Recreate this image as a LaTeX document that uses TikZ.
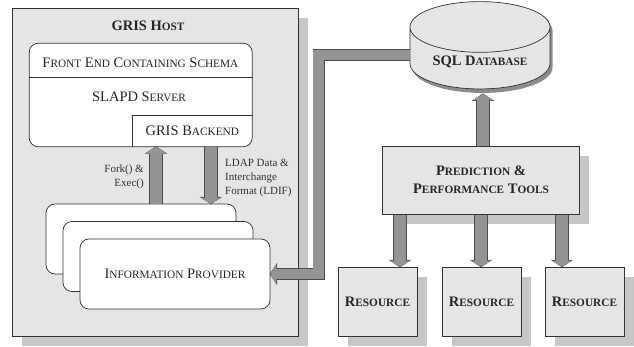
\documentclass[tikz,border=0pt]{standalone}
\usepackage{fontspec}
\setmainfont{Liberation Serif}
\usetikzlibrary{arrows.meta,shapes.geometric,shadows}

% small letters of the small caps
\newcommand{\sm}[1]{{\fontsize{11.3}{13}\selectfont #1}}

\tikzset{
  big/.style={font=\fontsize{14.5}{18}\selectfont, text=black!85},
  bigbold/.style={font=\fontsize{14.5}{18}\selectfont\bfseries, text=black!85},
  note/.style={font=\fontsize{11}{14}\selectfont, text=black!80, inner sep=0pt},
  line/.style={draw=black!80, line width=0.7pt},
  shadowed/.style={drop shadow={shadow xshift=10pt, shadow yshift=-10pt, fill=black!22, opacity=1}},
  greybox/.style={line, fill=black!10, shadowed},
  softbox/.style={line, fill=white, rounded corners=9pt},
  fatarrow/.style={line width=#1pt, draw=black!42, -{Triangle[width=20pt,length=6pt,line width=0pt]},
    preaction={draw=black!70, line width=#1pt+1.6pt, -{Triangle[width=22.5pt,length=7.4pt,line width=0pt]}, shorten >=-0.6pt}},
  fatarrow/.default=12.4,
}

\begin{document}
\begin{tikzpicture}[x=1pt,y=-1pt]
  \useasboundingbox (0,0) rectangle (634,347);

  % GRIS host
  \node[greybox, minimum width=286, minimum height=328] (host) at (155,172) {};
  \node[bigbold] (hosttitle) at (148,25.5) {GRIS H\sm{OST}};

  % slapd server
  \node[softbox, minimum width=223, minimum height=103.5] (slapd) at (140.7,95) {};
  \draw[line] (slapd.west |- 0,77.3) -- (slapd.east |- 0,77.3);
  \node[big] (fe) at (140.4,63) {F\sm{RONT} E\sm{ND} C\sm{ONTAINING} S\sm{CHEMA}};
  \node[big] (srv) at (139,96.7) {SLAPD S\sm{ERVER}};
  \node[big, minimum width=120, minimum height=31] (gb) at (192.3,131.2) {GRIS B\sm{ACKEND}};
  \draw[line] (gb.south west) -- (gb.north west) -- (gb.north east);

  % information providers
  \node[softbox, minimum width=190, minimum height=70] (ip1) at (141,239) {};
  \node[softbox, minimum width=190, minimum height=70] (ip2) at (158,256.5) {};
  \node[softbox, big, minimum width=190, minimum height=70] (ip3) at (175,274) {I\sm{NFORMATION} P\sm{ROVIDER}};

  % fork and ldif
  \draw[fatarrow] ([xshift=15]ip1.north) -- ([xshift=-36.3]gb.south);
  \draw[fatarrow] ([xshift=18.5]gb.south) -- ([xshift=69.8]ip1.north);
  \node[note, anchor=east, align=right] (forklbl) at (144,176.5) {Fork() \&\\Exec()};
  \node[note, anchor=west, align=left] (ldiflbl) at (225,178) {LDAP Data \&\\Interchange\\Format (LDIF)};

  % database
  \node[cylinder, shape border rotate=90, aspect=0.5, line, fill=black!10,
    minimum width=140, minimum height=76, bigbold,
    drop shadow={shadow xshift=2.5pt, shadow yshift=-4pt, fill=black!45, opacity=1}] (db) at (480,62) {SQL D\sm{ATABASE}};

  % prediction and resources
  \node[greybox, bigbold, align=center, minimum width=196.7, minimum height=68.3] (pred) at (481,180.2) {P\sm{REDICTION} \&\\P\sm{ERFORMANCE} T\sm{OOLS}};
  \foreach \rx/\rn in {377.5/r1, 481.5/r2, 584.5/r3}
    \node[greybox, bigbold, minimum width=79, minimum height=69] (\rn) at (\rx,301.5) {R\sm{ESOURCE}};

  \draw[fatarrow] ([xshift=2]pred.north) -- ([xshift=3,yshift=-4.8]db.south);
  \foreach \dx/\rn in {-81/r1, 0/r2, 81/r3}
    \draw[fatarrow] ([xshift=\dx]pred.south) -- ([xshift=\dx]pred.south |- \rn.north);

  % database to information provider
  \draw[fatarrow=10.4] ([yshift=7]db.west) -- ++(-91,0) |- (ip3.east);
\end{tikzpicture}
\end{document}
